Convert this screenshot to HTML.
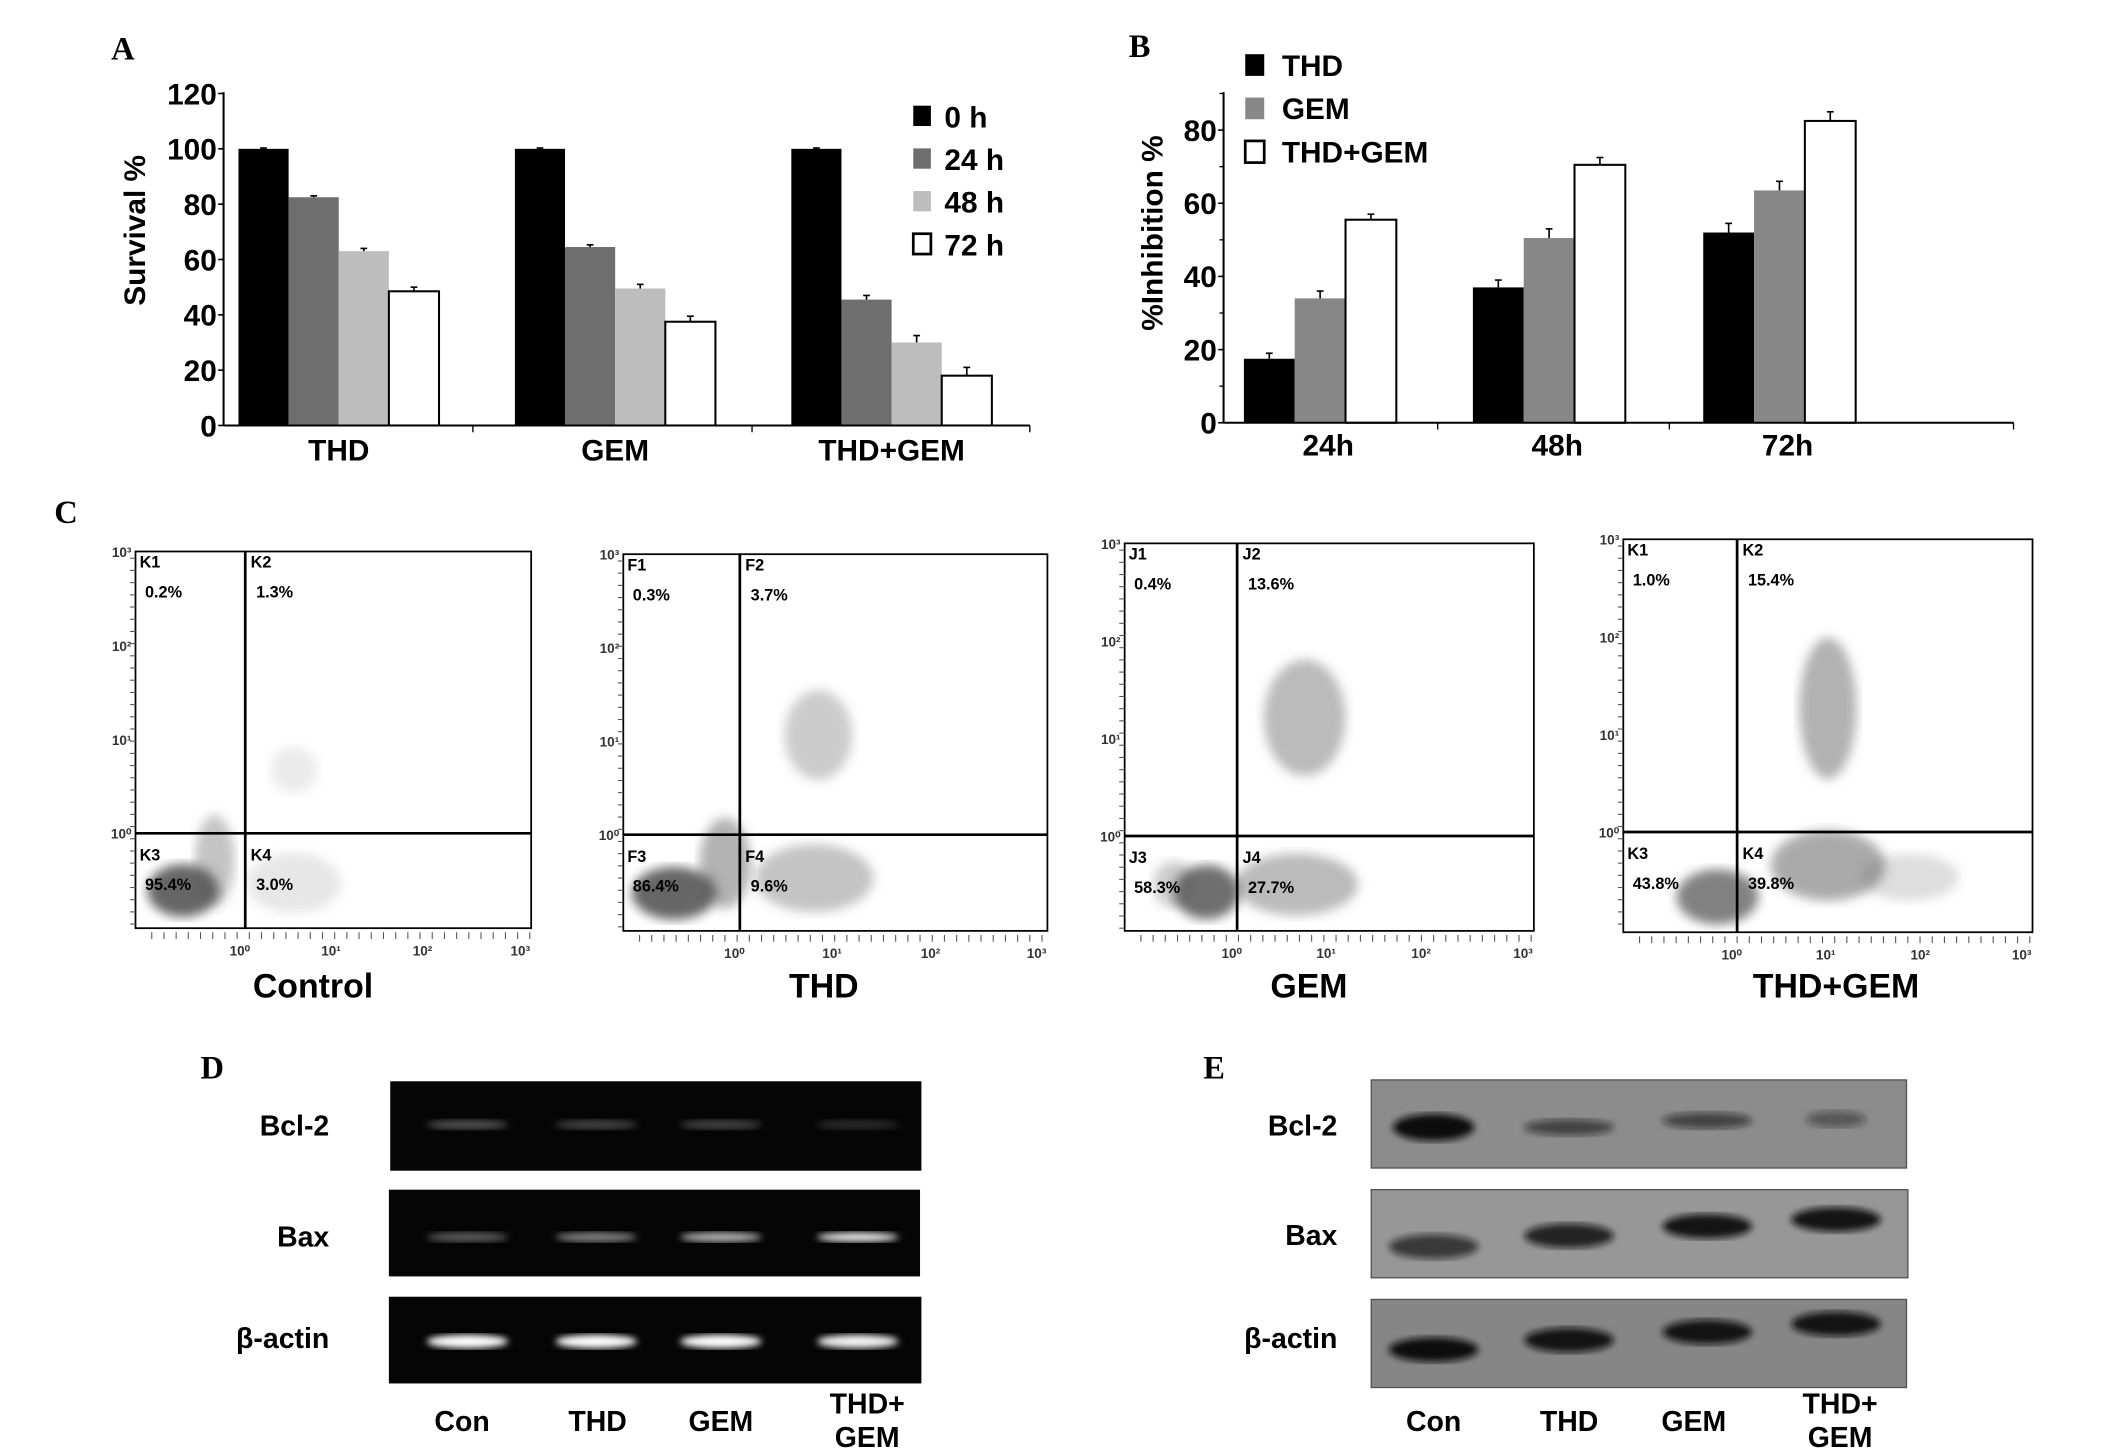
<!DOCTYPE html>
<html><head><meta charset="utf-8"><style>
html,body{margin:0;padding:0;background:#fff}
svg{display:block}
text{font-family:"Liberation Sans",sans-serif;font-weight:bold}
.ser{font-family:"Liberation Serif",serif}
</style></head><body>
<svg id="fig" width="2126" height="1455" viewBox="0 0 1569 1073.8" preserveAspectRatio="none" xmlns="http://www.w3.org/2000/svg">
<defs>
<filter id="blur2"><feGaussianBlur stdDeviation="2.5"/></filter>
<filter id="blur4"><feGaussianBlur stdDeviation="4"/></filter>
</defs>
<text class="ser" x="82" y="44" font-size="24">A</text>
<text class="ser" x="833" y="42" font-size="24">B</text>
<text class="ser" x="40" y="386" font-size="24">C</text>
<text class="ser" x="148" y="796" font-size="24">D</text>
<text class="ser" x="888" y="796" font-size="24">E</text>
<g id="chartA"></g>
<g id="chartB"></g>
<g id="flow"></g>
<g id="gels"></g>
</svg>
<script>
// Panel A data
const aCategories = ["THD","GEM","THD+GEM"];
const aSeriesNames = ["0 h","24 h","48 h","72 h"];
const aValues0 = [100,100,100];
const aValues24 = [82.5,64.5,45.5];
const aValues48 = [63,49.5,30];
const aValues72 = [48.5,37.5,18];
const aErr0 = [0.3,0.3,0.3];
const aErr24 = [0.5,0.8,1.5];
const aErr48 = [1,1.5,2.5];
const aErr72 = [1.5,2,3];
const aTicks = [0,20,40,60,80,100,120];
// Panel B data
const bCategories = ["24h","48h","72h"];
const bSeriesNames = ["THD","GEM","THD+GEM"];
const bTHD = [17.5,37,52];
const bGEM = [34,50.5,63.5];
const bCombo = [55.5,70.5,82.5];
const bErrTHD = [1.5,2,2.5];
const bErrGEM = [2,2.5,2.5];
const bErrCombo = [1.5,2,2.5];
const bTicks = [0,20,40,60,80];
// Panel C data
const flowTitles = ["Control","THD","GEM","THD+GEM"];
const flowQ1 = ["K1 0.2%","F1 0.3%","J1 0.4%","K1 1.0%"];
const flowQ2 = ["K2 1.3%","F2 3.7%","J2 13.6%","K2 15.4%"];
const flowQ3 = ["K3 95.4%","F3 86.4%","J3 58.3%","K3 43.8%"];
const flowQ4 = ["K4 3.0%","F4 9.6%","J4 27.7%","K4 39.8%"];
// Panel D/E
const laneNames = ["Con","THD","GEM","THD+GEM"];
const rowNames = ["Bcl-2","Bax","β-actin"];
const gelBcl2 = [0.3,0.25,0.25,0.15];
const gelBax = [0.35,0.5,0.7,0.9];
const gelActin = [1,1,1,0.95];
const wbBcl2 = [1,0.6,0.6,0.45];
const wbBax = [0.7,0.85,0.95,0.95];
const wbActin = [1,0.95,0.95,0.95];

const NS="http://www.w3.org/2000/svg";
function mk(tag,attrs,parent,txt){const e=document.createElementNS(NS,tag);for(const k in attrs)e.setAttribute(k,attrs[k]);if(txt!==undefined)e.textContent=txt;parent.appendChild(e);return e;}

// ---------- Panel A ----------
(function(){
const g=document.getElementById('chartA');
const x0=165,yTop=68,y0=314,xEnd=760;
const yS=v=>y0-v*(y0-69)/120;
const groupStart=[176,380,584],bw=37;
const fills=["#000","#6e6e6e","#bdbdbd","#fff"];
const vals=[aValues0,aValues24,aValues48,aValues72];
const errs=[aErr0,aErr24,aErr48,aErr72];
for(let c=0;c<aCategories.length;c++){
 for(let s=0;s<4;s++){
  const x=groupStart[c]+s*bw, y=yS(vals[s][c]);
  const r=mk('rect',{x:x,y:y,width:bw,height:y0-y,fill:fills[s],stroke:s==3?'#000':'none','stroke-width':1.5},g);
  
  
  const ye=yS(vals[s][c]+errs[s][c]);
  mk('line',{x1:x+bw/2,x2:x+bw/2,y1:y,y2:ye,stroke:'#000','stroke-width':1.2},g);
  mk('line',{x1:x+bw/2-2.5,x2:x+bw/2+2.5,y1:ye,y2:ye,stroke:'#000','stroke-width':1.2},g);
 }
 const t=mk('text',{x:groupStart[c]+2*bw,y:340,'font-size':22,'text-anchor':'middle'},g,aCategories[c]);
 
 
}
mk('line',{x1:x0,x2:x0,y1:yTop,y2:y0,stroke:'#000','stroke-width':1.5},g);
mk('line',{x1:x0,x2:xEnd,y1:y0,y2:y0,stroke:'#000','stroke-width':1.5},g);
[349,555,xEnd].forEach(x=>mk('line',{x1:x,x2:x,y1:y0,y2:y0+5,stroke:'#000','stroke-width':1},g));
aTicks.forEach(v=>{mk('line',{x1:x0-4,x2:x0,y1:yS(v),y2:yS(v),stroke:'#000','stroke-width':1.2},g);
 const t=mk('text',{x:x0-5,y:yS(v)+8,'font-size':22,'text-anchor':'end'},g,v);
 });
const yt=mk('text',{x:0,y:0,'font-size':22,'text-anchor':'middle',transform:'translate(107,170) rotate(-90)'},g,'Survival %');

aSeriesNames.forEach((n,i)=>{const y=86+i*31.5;
 const r=mk('rect',{x:674,y:y-8,width:13,height:15,fill:fills[i],stroke:'#000','stroke-width':i==3?2:0},g);
 
 const t=mk('text',{x:697,y:y+8,'font-size':22},g,n);
 });
})();

// ---------- Panel B ----------
(function(){
const g=document.getElementById('chartB');
const x0=903,yTop=68,y0=312,xEnd=1486;
const yS=v=>y0-v*2.7;
const groupStart=[918,1087,1257],bw=37.5;
const fills=["#000","#878787","#fff"];
const vals=[bTHD,bGEM,bCombo],errs=[bErrTHD,bErrGEM,bErrCombo];
for(let c=0;c<bCategories.length;c++){
 for(let s=0;s<3;s++){
  const x=groupStart[c]+s*bw,y=yS(vals[s][c]);
  const r=mk('rect',{x:x,y:y,width:bw,height:y0-y,fill:fills[s],stroke:s==2?'#000':'none','stroke-width':1.5},g);
  
  
  const ye=yS(vals[s][c]+errs[s][c]);
  mk('line',{x1:x+bw/2,x2:x+bw/2,y1:y,y2:ye,stroke:'#000','stroke-width':1.2},g);
  mk('line',{x1:x+bw/2-2.5,x2:x+bw/2+2.5,y1:ye,y2:ye,stroke:'#000','stroke-width':1.2},g);
 }
 const t=mk('text',{x:groupStart[c]+1.5*bw+6,y:336,'font-size':22,'text-anchor':'middle'},g,bCategories[c]);
 
}
mk('line',{x1:x0,x2:x0,y1:yTop,y2:y0,stroke:'#000','stroke-width':1.5},g);
mk('line',{x1:x0,x2:xEnd,y1:y0,y2:y0,stroke:'#000','stroke-width':1.5},g);
[1061,1232,xEnd].forEach(x=>mk('line',{x1:x,x2:x,y1:y0,y2:y0+5,stroke:'#000','stroke-width':1},g));
for(let v=10;v<=90;v+=20)mk('line',{x1:x0-3,x2:x0,y1:yS(v),y2:yS(v),stroke:'#000','stroke-width':1},g);
bTicks.forEach(v=>{mk('line',{x1:x0-4,x2:x0,y1:yS(v),y2:yS(v),stroke:'#000','stroke-width':1.2},g);
 const t=mk('text',{x:x0-5,y:yS(v)+8,'font-size':22,'text-anchor':'end'},g,v);
 });
const yt=mk('text',{x:0,y:0,'font-size':22,'text-anchor':'middle',transform:'translate(858,172) rotate(-90)'},g,'%Inhibition %');

bSeriesNames.forEach((n,i)=>{const y=48+i*32;
 const r=mk('rect',{x:919,y:y-8,width:14,height:16,fill:fills[i],stroke:'#000','stroke-width':i==2?2:0},g);
 
 const t=mk('text',{x:946,y:y+8,'font-size':22},g,n);
 });
})();

// ---------- Panel C ----------
(function(){
const g=document.getElementById('flow');
const boxes=[[100,407,392,685,181,615],[460,409,773,687,546,616],[830,401,1132,687,913,617],[1198,398,1500,688,1282,614]];
const titleX=[231,608,966,1355];
const clusters=[
 [[0.12,0.9,0.09,0.07,0.9],[0.2,0.82,0.05,0.12,0.35],[0.4,0.88,0.12,0.08,0.15],[0.4,0.58,0.06,0.06,0.12]],
 [[0.12,0.9,0.1,0.07,0.9],[0.24,0.82,0.06,0.12,0.45],[0.45,0.86,0.14,0.09,0.35],[0.46,0.48,0.08,0.12,0.3]],
 [[0.2,0.9,0.08,0.07,0.85],[0.42,0.88,0.15,0.08,0.4],[0.44,0.45,0.1,0.15,0.4],[0.12,0.88,0.05,0.06,0.3]],
 [[0.23,0.91,0.1,0.07,0.75],[0.5,0.83,0.14,0.09,0.5],[0.5,0.43,0.07,0.18,0.45],[0.7,0.86,0.12,0.06,0.2]]
];
boxes.forEach((b,i)=>{
 const [l,t,r,bt,vx,hy]=b,w=r-l,h=bt-t;
 const pg=mk('g',{},g);
 
 
 clusters[i].forEach(c=>mk('ellipse',{cx:l+c[0]*w,cy:t+c[1]*h,rx:c[2]*w,ry:c[3]*h,fill:'#555','fill-opacity':c[4],filter:'url(#blur4)'},pg));
 mk('rect',{x:l,y:t,width:w,height:h,fill:'none',stroke:'#000','stroke-width':1.3},pg);
 mk('line',{x1:vx,x2:vx,y1:t,y2:bt,stroke:'#000','stroke-width':2},pg);
 mk('line',{x1:l,x2:r,y1:hy,y2:hy,stroke:'#000','stroke-width':2},pg);
 const yLab=[t,t+(hy-t)/3,t+2*(hy-t)/3,hy];
 ['10³','10²','10¹','10⁰'].forEach((s,k)=>{mk('text',{x:l-3,y:yLab[k]+4,'font-size':10,'font-weight':'normal','text-anchor':'end','fill':'#333'},pg,s);});
 const xLab=[vx-4,l+(vx-l)*1+(r-vx)*0.3,l+(vx-l)+(r-vx)*0.62,r-8];
 ['10⁰','10¹','10²','10³'].forEach((s,k)=>mk('text',{x:xLab[k],y:bt+20,'font-size':10,'font-weight':'normal','text-anchor':'middle',fill:'#333'},pg,s));
 for(let x=l+12;x<r;x+=9)mk('line',{x1:x,x2:x,y1:bt+3,y2:bt+8,stroke:'#555','stroke-width':0.8},pg);
 for(let y=t+5;y<bt;y+=9)mk('line',{x1:l-4,x2:l,y1:y,y2:y,stroke:'#555','stroke-width':0.8},pg);
 const q=[flowQ1[i],flowQ2[i],flowQ3[i],flowQ4[i]];
 const qx=[l+3,vx+4,l+3,vx+4],qy=[t+12,t+12,hy+20,hy+20];
 q.forEach((s,k)=>{const [a,p]=s.split(' ');
  const t1=mk('text',{x:qx[k],y:qy[k],'font-size':12,'font-weight':'normal'},pg,a);
  
  const t2=mk('text',{x:qx[k]+4,y:qy[k]+22,'font-size':12,'font-weight':'normal'},pg,p);
  });
 const tt=mk('text',{x:titleX[i],y:736,'font-size':25,'text-anchor':'middle'},g,flowTitles[i]);
 
});
})();

// ---------- Panels D & E ----------
(function(){
const g=document.getElementById('gels');
const gelBoxes=[[288,798,392,66],[287,878,392,64],[287,957,393,64]];
const wbBoxes=[[1012,797,395,65],[1012,878,396,65],[1012,959,395,65]];
const gelLaneX=[345,440,532,633],wbLaneX=[1058,1158,1260,1355];
const gelVals=[gelBcl2,gelBax,gelActin],wbVals=[wbBcl2,wbBax,wbActin];
const gelBandY=[830,913,990],wbBandY=[[832,832,827,826],[920,912,905,900],[996,989,983,977]];
gelBoxes.forEach((b,r)=>{
 const rg=mk('g',{},g);
 mk('rect',{x:b[0],y:b[1],width:b[2],height:b[3],fill:'#050505'},rg);
 gelVals[r].forEach((v,k)=>mk('ellipse',{cx:gelLaneX[k],cy:gelBandY[r],rx:30,ry:r==2?5:3.5,fill:'#fff','fill-opacity':v,filter:'url(#blur2)'},rg));
 const t=mk('text',{x:243,y:[838,920,995][r],'font-size':21,'text-anchor':'end'},g,rowNames[r]);
 
});
wbBoxes.forEach((b,r)=>{
 const rg=mk('g',{},g);
 mk('rect',{x:b[0],y:b[1],width:b[2],height:b[3],fill:['#8c8c8c','#979797','#868686'][r],stroke:'#555','stroke-width':1},rg);
 wbVals[r].forEach((v,k)=>mk('ellipse',{cx:wbLaneX[k],cy:wbBandY[r][k],rx:r==0&&k==0?30:(r==0&&k==3?22:33),ry:r==0?(k==0?10:6):9,fill:'#111','fill-opacity':v,filter:'url(#blur2)'},rg));
 const t=mk('text',{x:987,y:[838,919,995][r],'font-size':21,'text-anchor':'end'},g,rowNames[r]);
 
});
[[gelLaneX,[341,441,532,640],1056],[wbLaneX,[1058,1158,1250,1358],1056]].forEach(([_,xs,y],p)=>{
 laneNames.forEach((n,k)=>{
  if(n==='THD+GEM'){
   const t1=mk('text',{x:xs[k],y:y-13,'font-size':21,'text-anchor':'middle'},g,'THD+');
   
   const t2=mk('text',{x:xs[k],y:y+12,'font-size':21,'text-anchor':'middle'},g,'GEM');
   
  } else {
   const t=mk('text',{x:xs[k],y:y,'font-size':21,'text-anchor':'middle'},g,n);
   
  }
 });
});
})();
</script>
</body></html>
